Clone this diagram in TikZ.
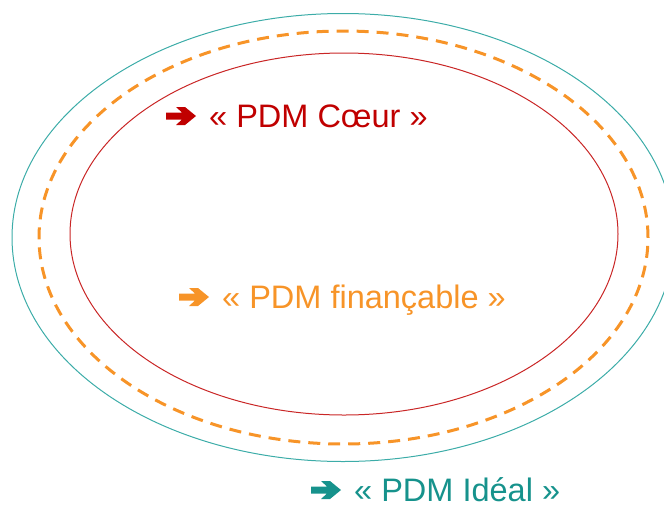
\documentclass[tikz,border=0pt]{standalone}
\usepackage{fontspec}
\setmainfont{Liberation Sans}
\usetikzlibrary{positioning,shapes.geometric}
\definecolor{pdmred}{RGB}{192,0,0}
\definecolor{pdmorange}{RGB}{247,148,40}
\definecolor{pdmteal}{RGB}{22,146,140}
\definecolor{pdmline}{RGB}{60,172,168}
\tikzset{
	ring/.style={draw, ellipse, inner sep=0pt, fill=none},
	pdmlabel/.style={anchor=west, inner sep=0pt, text height=22pt, text depth=0pt,
		font=\fontsize{32.5}{34}\selectfont}
}
% thick arrow in front of each label, #4 is the arrow's centre
\newcommand{\pdmtag}[4]{
	\fill [#1, shift={(#4)}] (-15,-3.5) -- (1,-3.5) -- (-5,-9) -- (4,-9) -- (15,0)
		-- (4,9) -- (-5,9) -- (1,3.5) -- (-15,3.5) -- cycle;
	\path (#4) ++(15,0) coordinate (#2arrow);
	\node [pdmlabel, text=#1, right=13pt of #2arrow] (#2) {« PDM #3 »};
}

\begin{document}
\begin{tikzpicture}[x=1pt, y=-1pt]
		\useasboundingbox (0,0) rectangle (664,507);
		% the three rings
		\node [ring, draw=pdmline, line width=1pt, minimum width=662pt, minimum height=448pt] (ideal) at (343,237.5) {};
		\node [ring, draw=pdmorange, line width=3pt, dash pattern=on 12pt off 8pt, minimum width=609pt, minimum height=413pt] (financable) at (343.5,237.5) {};
		\node [ring, draw=pdmred!85!white, line width=1pt, minimum width=548pt, minimum height=362pt] (coeur) at (344,234) {};
		
		% labels
		\pdmtag{pdmred}{coeurlbl}{Cœur}{181,116}
		\pdmtag{pdmorange}{financablelbl}{finançable}{194,297}
		\pdmtag{pdmteal}{ideallbl}{Idéal}{326,490}
\end{tikzpicture}
\end{document}
